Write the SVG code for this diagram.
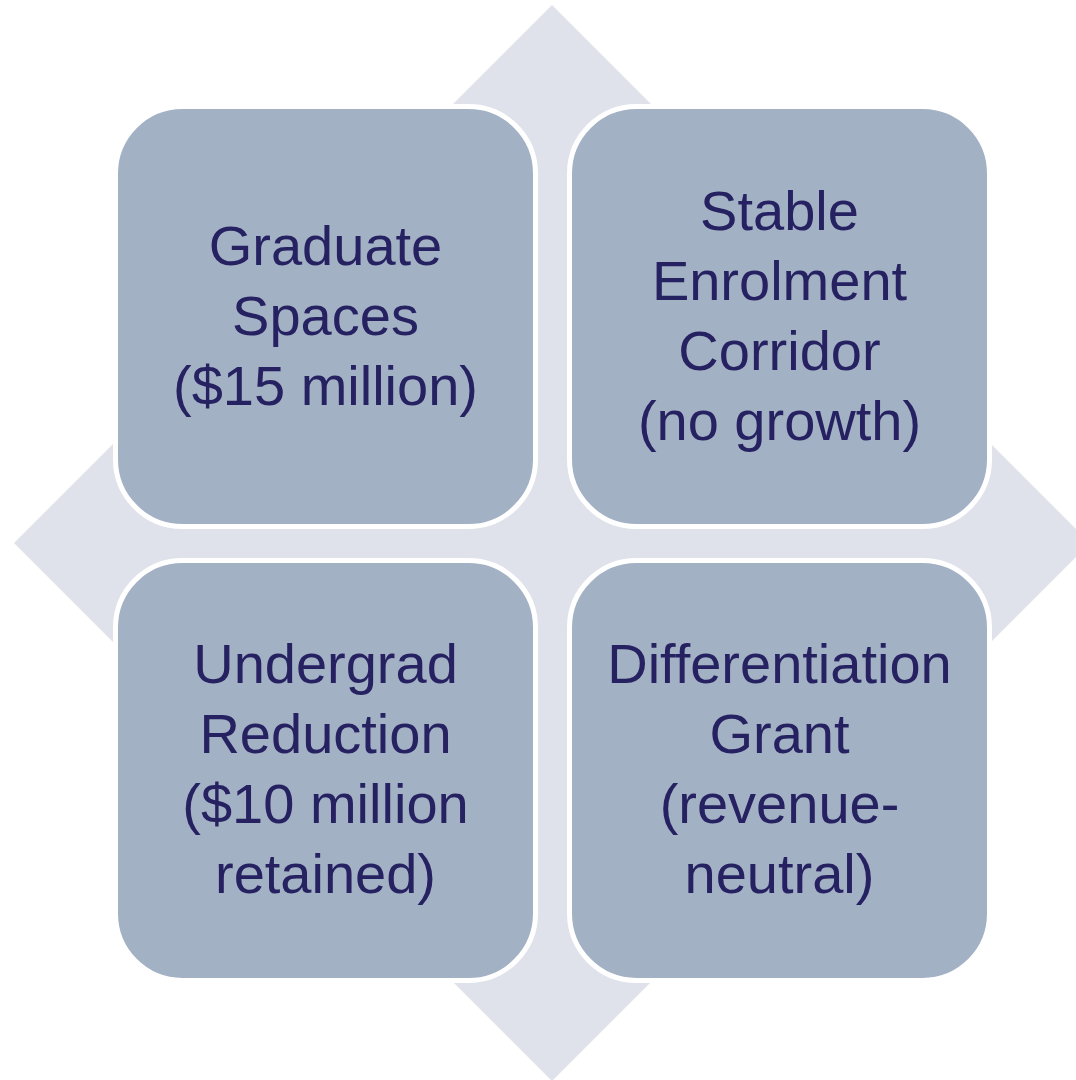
<svg xmlns="http://www.w3.org/2000/svg" width="1076" height="1080" viewBox="0 0 1076 1080">
  <style>
    .box { fill: #A3B1C5; stroke: #FFFFFF; stroke-width: 5; }
    .lbl { font-family: "Liberation Sans", Arial, sans-serif; font-size: 56px; fill: #262262; text-anchor: middle; }
  </style>
  <rect x="0" y="0" width="1076" height="1080" fill="#FFFFFF"/>
  <g id="background-diamond">
    <polygon points="552,5 1090,543 552,1081 14,543" fill="#DFE2EA"/>
  </g>
  <g id="connectors"></g>
  <g id="node-graduate-spaces">
    <rect class="box" x="115.5" y="106.5" width="420" height="420" rx="67" ry="67"/>
    <text class="lbl" x="325.5" y="265">Graduate</text>
    <text class="lbl" x="325.5" y="335">Spaces</text>
    <text class="lbl" x="325.5" y="405">($15 million)</text>
  </g>
  <g id="node-stable-enrolment">
    <rect class="box" x="569.5" y="106.5" width="420" height="420" rx="67" ry="67"/>
    <text class="lbl" x="779.5" y="230">Stable</text>
    <text class="lbl" x="779.5" y="300">Enrolment</text>
    <text class="lbl" x="779.5" y="370">Corridor</text>
    <text class="lbl" x="779.5" y="440">(no growth)</text>
  </g>
  <g id="node-undergrad-reduction">
    <rect class="box" x="115.5" y="560.5" width="420" height="420" rx="67" ry="67"/>
    <text class="lbl" x="325.5" y="683">Undergrad</text>
    <text class="lbl" x="325.5" y="753">Reduction</text>
    <text class="lbl" x="325.5" y="823">($10 million</text>
    <text class="lbl" x="325.5" y="893">retained)</text>
  </g>
  <g id="node-differentiation-grant">
    <rect class="box" x="569.5" y="560.5" width="420" height="420" rx="67" ry="67"/>
    <text class="lbl" x="779.5" y="683">Differentiation</text>
    <text class="lbl" x="779.5" y="753">Grant</text>
    <text class="lbl" x="779.5" y="823">(revenue-</text>
    <text class="lbl" x="779.5" y="893">neutral)</text>
  </g>
</svg>
